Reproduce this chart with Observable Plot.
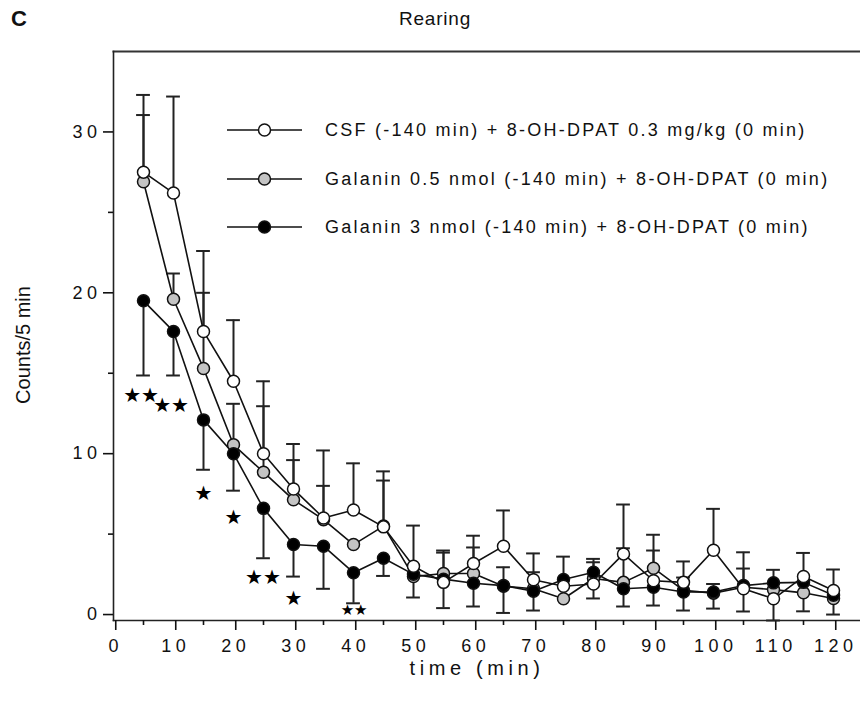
<!DOCTYPE html>
<html><head><meta charset="utf-8">
<script src="https://cdn.jsdelivr.net/npm/d3@7"></script>
<script src="https://cdn.jsdelivr.net/npm/@observablehq/plot@0.6"></script>
<style>
body{margin:0;background:#fff;font-family:"Liberation Sans",Arial,sans-serif;}
#wrap{position:relative;width:860px;height:715px;}
.abs{position:absolute;white-space:nowrap;color:#111;line-height:1;}
#chart g[aria-label$="tick label"] text{letter-spacing:4.5px;}
.leg{position:absolute;left:227px;height:20px;display:flex;align-items:center;}
.leg span{position:absolute;left:98px;font-size:18px;letter-spacing:2.25px;color:#111;white-space:nowrap;}
</style>
</head><body>
<div id="wrap">
  <div id="chart"></div>
  <div class="abs" style="left:11px;top:8px;font-size:22px;font-weight:bold;">C</div>
  <div class="abs" style="left:0;width:870px;text-align:center;top:9px;font-size:19px;letter-spacing:0.8px;">Rearing</div>
  <div class="abs" style="left:477px;top:658px;transform:translateX(-50%);font-size:20px;letter-spacing:4.6px;">time (min)</div>
  <div class="abs" style="left:23px;top:345px;transform:translate(-50%,-50%) rotate(-90deg);font-size:20px;">Counts/5 min</div>
  <div id="legend"></div>
</div>
<script>
const time = [5,10,15,20,25,30,35,40,45,50,55,60,65,70,75,80,85,90,95,100,105,110,115,120];
const seriesNames = [
  "CSF (-140 min) + 8-OH-DPAT 0.3 mg/kg (0 min)",
  "Galanin 0.5 nmol (-140 min) + 8-OH-DPAT (0 min)",
  "Galanin 3 nmol (-140 min) + 8-OH-DPAT (0 min)"
];
const seriesFill = ["#ffffff", "#c4c4c4", "#000000"];
const csf   = [27.5,26.2,17.6,14.5,10.0,7.8,6.0,6.5,5.45,3.0,2.0,3.17,4.25,2.16,1.76,1.9,3.77,2.1,2.0,4.0,1.6,0.98,2.36,1.5];
const gal05 = [26.9,19.6,15.3,10.55,8.85,7.13,5.9,4.35,5.5,2.36,2.55,2.55,1.76,1.6,0.98,2.24,2.0,2.88,1.5,1.33,1.7,1.55,1.35,1.0];
const gal3  = [19.5,17.6,12.1,10.0,6.6,4.35,4.25,2.6,3.5,2.5,2.2,1.95,1.8,1.45,2.18,2.63,1.6,1.7,1.4,1.4,1.8,1.97,2.0,1.2];
// error bar end points (one-sided SEM bars)
const csfErr   = [32.3,32.2,22.6,18.3,14.5,10.6,10.2,9.4,8.9,5.53,0.4,4.9,6.47,3.8,null,1.0,6.84,3.98,3.3,6.57,3.87,-0.37,3.83,2.8];
const gal05Err = [31.05,21.2,20.0,13.1,12.95,9.6,8.0,null,8.33,1.06,3.98,4.17,0.1,2.63,null,3.25,4.12,4.96,2.3,0.37,0.19,null,0.2,0.0];
const gal3Err  = [14.86,14.86,9.0,7.7,3.5,2.36,1.6,0.7,2.4,null,3.85,0.5,2.94,0.25,3.6,3.46,0.5,0.56,0.25,1.9,2.86,2.78,null,null];
// significance stars
const starTime  = [4.6,9.6,15,20,24.9,30];
const starValue = [13.6,13.0,7.5,6.0,2.3,1.0];
const starText  = ["★★","★★","★","★","★★","★"];
const smallStarTime = [40.1], smallStarValue = [0.25], smallStarText = ["★★"];
const xMajorTicks = [0,10,20,30,40,50,60,70,80,90,100,110,120];
const xMinorTicks = [5,15,25,35,45,55,65,75,85,95,105,115];
const yMajorTicks = [0,10,20,30];
const yMinorTicks = [5,15,25];

const means = [csf, gal05, gal3];
const errs = [csfErr, gal05Err, gal3Err];
const drawOrder = [1,2,0];
const rows = [], errRows = [];
for (const s of drawOrder) {
  time.forEach((t,i) => {
    rows.push({t, value: means[s][i], series: seriesNames[s]});
    if (errs[s][i] != null) errRows.push({t, mean: means[s][i], end: errs[s][i]});
  });
}
const stars = starTime.map((t,i)=>({t, y: starValue[i], label: starText[i]}));
const smallStars = smallStarTime.map((t,i)=>({t, y: smallStarValue[i], label: smallStarText[i]}));

const plot = Plot.plot({
  width: 860, height: 715,
  marginLeft: 113, marginRight: 0, marginTop: 51, marginBottom: 95,
  style: {fontFamily: '"Liberation Sans", Arial, sans-serif', color: "#111", background: "#fff"},
  x: {domain: [0, 124.5]},
  y: {domain: [-0.37, 35]},
  color: {domain: seriesNames, range: seriesFill},
  marks: [
    Plot.frame({anchor: "top", stroke: "#333", strokeWidth: 2}),
    Plot.frame({anchor: "left", stroke: "#222", strokeWidth: 1.6}),
    Plot.frame({anchor: "bottom", stroke: "#222", strokeWidth: 1.6}),
    Plot.axisY({ticks: yMajorTicks, tickSize: 10, tickPadding: 2, fontSize: 18, label: null, strokeWidth: 1.6}),
    Plot.axisY({ticks: yMinorTicks, tickSize: 5, text: null, label: null, strokeWidth: 1.6}),
    Plot.axisX({ticks: xMajorTicks, tickSize: 10, tickPadding: 9, fontSize: 18, label: null, strokeWidth: 1.6, dx: 2.25}),
    Plot.axisX({ticks: xMinorTicks, tickSize: 5, text: null, label: null, strokeWidth: 1.6}),
    Plot.ruleX(errRows, {x: "t", y1: "mean", y2: "end", stroke: "#222", strokeWidth: 2}),
    Plot.ruleY(errRows, {y: "end", x1: d => d.t - 1.15, x2: d => d.t + 1.15, stroke: "#222", strokeWidth: 2}),
    Plot.line(rows, {x: "t", y: "value", z: "series", stroke: "#111", strokeWidth: 1.6}),
    Plot.dot(rows, {x: "t", y: "value", r: 6, fill: "series", stroke: "#111", strokeWidth: 1.5}),
    Plot.text(stars, {x: "t", y: "y", text: "label", fontSize: 20, fill: "#000", fontFamily: "DejaVu Sans"}),
    Plot.text(smallStars, {x: "t", y: "y", text: "label", fontSize: 15, fill: "#000", fontFamily: "DejaVu Sans"})
  ]
});
document.getElementById("chart").appendChild(plot);

const legendY = [130, 179, 227];
const legend = document.getElementById("legend");
seriesNames.forEach((name, i) => {
  const row = document.createElement("div");
  row.className = "leg";
  row.style.top = (legendY[i] - 10) + "px";
  row.innerHTML = `<svg width="76" height="20"><line x1="0" y1="10" x2="75" y2="10" stroke="#111" stroke-width="1.6"/><circle cx="37.5" cy="10" r="6" fill="${seriesFill[i]}" stroke="#111" stroke-width="1.5"/></svg><span>${name}</span>`;
  legend.appendChild(row);
});
</script>
</body></html>
